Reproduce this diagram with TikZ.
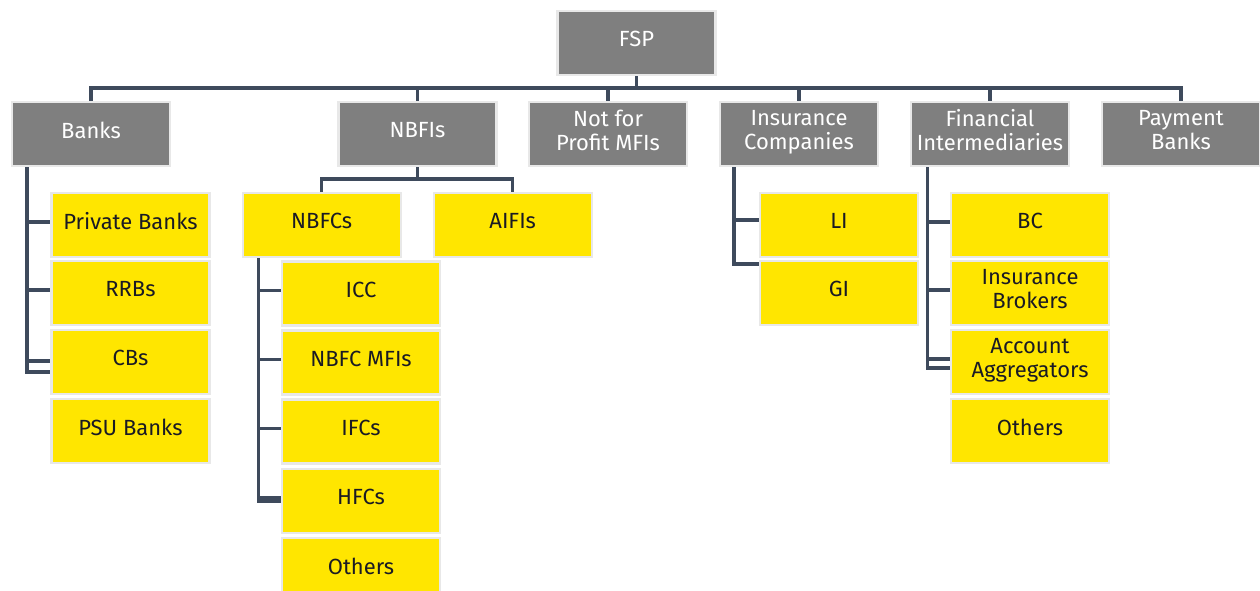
\documentclass[tikz,border=0pt]{standalone}
\usepackage{fontspec}
\setmainfont{Fira Sans}
\usepackage{tikz}

\definecolor{fspgray}{HTML}{7F7F7F}
\definecolor{fspyellow}{HTML}{FFE600}
\definecolor{fspline}{HTML}{3E4A5C}
\definecolor{fspedge}{HTML}{E8E8E8}
\definecolor{fsptext}{HTML}{1A1A24}

\begin{document}
\begin{tikzpicture}[x=0.02cm, y=-0.02cm,
    fspbox/.style={draw=fspedge, line width=1.2pt, rectangle,
        minimum width=3.16cm, minimum height=1.28cm, inner sep=1pt,
        text depth=4.5pt,
        align=center, font=\fontsize{12.5}{13.5}\selectfont},
    graybox/.style={fspbox, fill=fspgray, text=white},
    yellowbox/.style={fspbox, fill=fspyellow, text=fsptext},
    link/.style={draw=fspline, line width=2pt}]

    % picture frame
    \clip (0,0) rectangle (1260,591);
    \fill[white] (0,0) rectangle (1260,591);

    % root node
    \node[graybox] (FSP) at (636.5,43) {FSP};

    % first level
    \node[graybox] (Banks) at (91,134) {Banks};
    \node[graybox] (NBFIs) at (417.5,134) {NBFIs};
    \node[graybox] (NotProfit) at (608,134) {Not for\\Profit MFIs};
    \node[graybox] (InsComp) at (799,134) {Insurance\\Companies};
    \node[graybox] (FinInter) at (990,134) {Financial\\Intermediaries};
    \node[graybox] (PayBanks) at (1181,134) {Payment\\Banks};

    % banks column
    \node[yellowbox] (PrivBanks) at (130.5,225) {Private Banks};
    \node[yellowbox] (RRBs) at (130.5,293) {RRBs};
    \node[yellowbox] (CBs) at (130.5,362) {CBs};
    \node[yellowbox] (PSUBanks) at (130.5,431) {PSU Banks};

    % NBFI children
    \node[yellowbox] (NBFCs) at (321.7,225) {NBFCs};
    \node[yellowbox] (AIFIs) at (512.7,225) {AIFIs};

    % NBFC column
    \node[yellowbox] (ICC) at (361,293.5) {ICC};
    \node[yellowbox] (NBFCMFIs) at (361,362.5) {NBFC MFIs};
    \node[yellowbox] (IFCs) at (361,431.5) {IFCs};
    \node[yellowbox] (HFCs) at (361,501) {HFCs};
    \node[yellowbox] (NBFCOthers) at (361,570) {Others};

    % insurance column
    \node[yellowbox] (LI) at (839,225) {LI};
    \node[yellowbox] (GI) at (839,293) {GI};

    % intermediaries column
    \node[yellowbox] (BC) at (1030,225) {BC};
    \node[yellowbox] (InsBrokers) at (1030,293) {Insurance\\Brokers};
    \node[yellowbox] (AccAgg) at (1030,362) {Account\\Aggregators};
    \node[yellowbox] (FIOthers) at (1030,431) {Others};

    % trunk positions
    \coordinate (topbus) at (636.5,88);
    \coordinate (nbfibus) at (417.5,179);
    \coordinate (BanksTrunk) at (27,0);
    \coordinate (NBFCTrunk) at (258.3,0);
    \coordinate (InsTrunk) at (734,0);
    \coordinate (FITrunk) at (927.3,0);

    % top level connectors
    \draw[link] (FSP.south) -- (topbus);
    \draw[link] (Banks.north) |- (topbus) -| (PayBanks.north);
    \foreach \n in {NBFIs,NotProfit,InsComp,FinInter}
    {
        \draw[link] (\n.north) -- (\n.north |- topbus);
    }

    % NBFI split
    \draw[link] (NBFIs.south) -- (nbfibus);
    \draw[link] (NBFCs.north) |- (nbfibus) -| (AIFIs.north);

    % banks trunk
    \draw[link] (Banks.south -| BanksTrunk) |- ([yshift=-0.2cm]CBs.west);
    \foreach \c in {PrivBanks,RRBs}
    {
        \draw[link] ([yshift=0.06cm]BanksTrunk |- \c.west) -- ([yshift=0.06cm]\c.west);
    }
    \draw[link] ([yshift=0.02cm]BanksTrunk |- CBs.west) -- ([yshift=0.02cm]CBs.west);

    % NBFC trunk
    \draw[link] (NBFCs.south -| NBFCTrunk) |- (HFCs.west);
    \foreach \c in {ICC,NBFCMFIs,IFCs,HFCs}
    {
        \draw[link] ([yshift=0.06cm]NBFCTrunk |- \c.west) -- ([yshift=0.06cm]\c.west);
    }

    % insurance trunk
    \draw[link] (InsComp.south -| InsTrunk) |- ([yshift=0.58cm]GI.west);
    \draw[link] ([yshift=0.1cm]InsTrunk |- LI.west) -- ([yshift=0.1cm]LI.west);

    % intermediaries trunk
    \draw[link] (FinInter.south -| FITrunk) |- ([yshift=-0.12cm]AccAgg.west);
    \foreach \c in {BC,InsBrokers,AccAgg}
    {
        \draw[link] ([yshift=0.06cm]FITrunk |- \c.west) -- ([yshift=0.06cm]\c.west);
    }

\end{tikzpicture}
\end{document}
